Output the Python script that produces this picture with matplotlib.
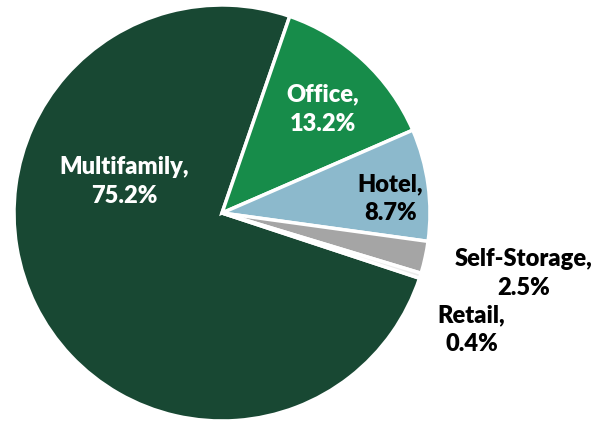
import numpy as np
import matplotlib.pyplot as plt

labels = ["Multifamily", "Office", "Hotel", "Self-Storage", "Retail"]
shares = [75.2, 13.2, 8.7, 2.5, 0.4]
colors = ["#184833", "#178c4a", "#8cb9cc", "#a5a5a5", "#ececec"]
text_colors = ["white", "white", "black", "black", "black"]
# label centres in pie-radius units
label_xy = [(-0.47, 0.15), (0.483, 0.50), (0.81, 0.07), (1.45, -0.29), (1.20, -0.56)]

plt.rcParams['font.family'] = ['Lato', 'DejaVu Sans']

fig = plt.figure(figsize=(5.99, 4.22), dpi=100)
R = 208
cx, cy = 222, 422 - 213
ax = fig.add_axes([(cx - R) / 599, (cy - R) / 422, 2 * R / 599, 2 * R / 422])

start = 90 - 19 + 360 * shares[0] / 100
ax.pie(shares, colors=colors, startangle=start, counterclock=False, radius=1,
       wedgeprops=dict(edgecolor="white", linewidth=2.5))

for lab, val, (x, y), c in zip(labels, shares, label_xy, text_colors):
    ax.text(x, y, f"{lab},\n{val}%", ha="center", va="center", color=c,
            fontsize=17, fontweight="heavy", linespacing=1.4)

ax.set_xlim(-1, 1)
ax.set_ylim(-1, 1)
ax.set_aspect("equal")
ax.axis("off")

fig.savefig("out.png", dpi=100)
